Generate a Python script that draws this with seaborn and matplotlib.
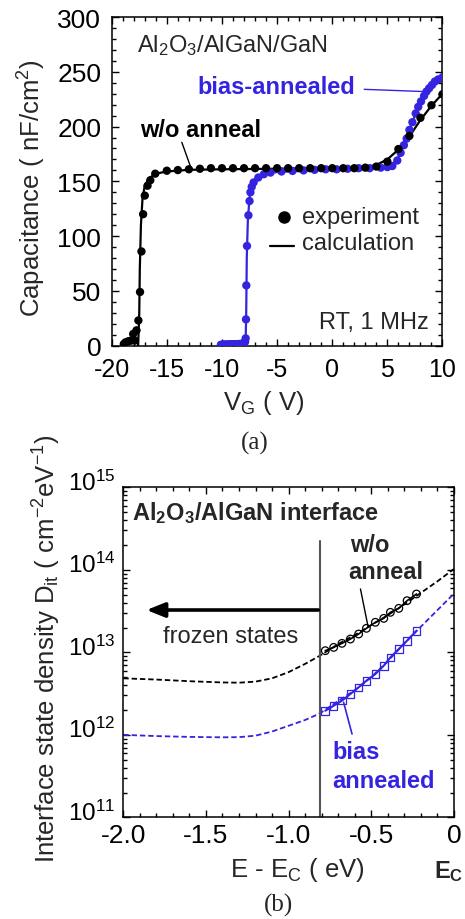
import numpy as np
import pandas as pd
import seaborn as sns
import matplotlib
matplotlib.use("Agg")
import matplotlib.pyplot as plt
from matplotlib.ticker import MultipleLocator, FixedLocator, FixedFormatter, LogLocator, NullFormatter
import matplotlib.transforms as mtransforms

# ---------------- data: panel (a) C-V ----------------
v_wo_exp = [-18.9, -18.75, -18.5, -18.25, -18.05, -17.9, -17.75, -17.58, -17.43, -17.3, -17.15,
            -17.0, -16.75, -16.5, -16.05, -15, -14, -13, -12, -11, -10, -9, -8, -7, -6, -5,
            -4, -3, -2, -1, 0, 1, 2, 3, 4, 5, 6, 7, 8, 9, 10]
c_wo_exp = [1.5, 3, 4, 4.6, 10.7, 4.6, 14, 23, 49, 86, 120,
            137, 146, 151, 157, 159.7, 160.3, 161, 161.5, 162, 162, 162, 162, 162, 162, 162,
            162, 162, 162, 162, 162, 162, 162, 162.5, 163.5, 168, 179.5, 191.5, 208, 219.5, 229.5]

v_wo_calc = [-17.6, -17.5, -17.45, -17.35, -17.2, -17.0, -16.6, -16.0, -15.0, -13.0, -10, -5, 0,
             3, 4, 5, 6, 7, 8, 9, 10]
c_wo_calc = [0, 30, 70, 110, 135, 146, 153, 157, 159, 160.5, 161, 161.5, 162,
             162.5, 165, 170, 179, 191, 206, 219, 230]

v_ba_exp = [-10.1, -10.0, -9.9, -9.8, -9.7, -9.6, -9.5, -9.4, -9.3, -9.2, -9.1, -9.0, -8.9,
            -8.8, -8.7, -8.6, -8.5, -8.4, -8.3, -8.2, -8.1, -8.0,
            -7.9, -7.85, -7.82, -7.79, -7.73, -7.6, -7.5, -7.42, -7.3, -7.13, -6.7, -6.2,
            -5.6, -4.6, -3.6, -2.6, -1.6, -0.6, 0.4, 1.4, 2.4, 3.4, 4.4, 5.0, 5.45, 5.9,
            6.2, 6.5, 6.75, 7.0, 7.27, 7.57, 7.8, 8.05, 8.33, 8.55, 8.79, 9.05, 9.3, 9.6, 10.0]
c_ba_exp = [0.8, 0.8, 0.9, 0.9, 1.0, 1.0, 1.0, 1.1, 1.1, 1.1, 1.2, 1.2, 1.2,
            1.3, 1.3, 1.4, 1.4, 1.5, 1.6, 1.7, 1.9, 2.2,
            3.5, 6.7, 24, 55, 91, 119, 132, 140, 145, 149, 153.5, 156.5,
            158, 159, 159.5, 160, 160.5, 161, 161, 161.5, 162, 162, 162.5, 163, 164, 169,
            176, 183, 189, 197, 204, 212, 218, 223, 228, 232, 235, 238, 241, 243, 245]

v_ba_calc = [-10.2, -8.0, -7.85, -7.8, -7.75, -7.65, -7.5, -7.3, -7.0, -6.5, -6, -5, 0, 4,
             5, 5.5, 6, 6.5, 7, 7.5, 8, 8.5, 9, 9.5, 10]
c_ba_calc = [1, 1, 5, 30, 80, 115, 135, 146, 152, 155, 157, 158.5, 161, 162.5,
             163.5, 166, 172, 183, 197, 210, 222, 232, 238, 242, 246]

cv_xticks = [-20, -15, -10, -5, 0, 5, 10]
cv_yticks = [0, 50, 100, 150, 200, 250, 300]

# ---------------- data: panel (b) Dit ----------------
e_calc = [-2.0, -1.8, -1.6, -1.4, -1.3, -1.2, -1.1, -1.0, -0.9, -0.81, -0.7, -0.6, -0.5,
          -0.4, -0.3, -0.2, -0.1, 0.0]
logd_wo_calc = [12.685, 12.67, 12.65, 12.635, 12.632, 12.645, 12.685, 12.76, 12.86, 12.96, 13.10,
                13.21, 13.33, 13.45, 13.58, 13.72, 13.86, 14.01]
logd_ba_calc = [12.0, 11.985, 11.975, 11.97, 11.972, 11.99, 12.04, 12.11, 12.18, 12.26, 12.41,
                12.54, 12.70, 12.89, 13.11, 13.31, 13.51, 13.71]

e_exp = [-0.778, -0.727, -0.677, -0.626, -0.576, -0.529, -0.475, -0.424, -0.384, -0.333,
         -0.283, -0.226]
logd_wo_exp = [13.020, 13.060, 13.109, 13.161, 13.222, 13.291, 13.364, 13.412, 13.485, 13.533,
               13.626, 13.707]
logd_ba_exp = [12.292, 12.353, 12.414, 12.495, 12.576, 12.656, 12.737, 12.838, 12.939, 13.04,
               13.141, 13.262]

dit_xticks = [-2.0, -1.5, -1.0, -0.5, 0.0]
dit_xticklabels = ["-2.0", "-1.5", "-1.0", "-0.5", "0"]
e_frozen = -0.81

BLUE = "#3424e0"
BLACK = "black"

sns.set_theme(style="ticks")
plt.rcParams["font.family"] = ["Liberation Sans", "DejaVu Sans"]
plt.rcParams["mathtext.fontset"] = "custom"
plt.rcParams["mathtext.rm"] = "Liberation Sans"
plt.rcParams["mathtext.it"] = "Liberation Sans:italic"
plt.rcParams["mathtext.bf"] = "Liberation Sans:bold"
plt.rcParams["mathtext.default"] = "regular"
plt.rcParams["axes.unicode_minus"] = False

FS = 17     # annotation text
LFS = 18.5  # axis labels
TFS = 19    # tick labels

fig = plt.figure(figsize=(4.65, 9.2), dpi=100)
axA = fig.add_axes([0.2402, 0.6232, 0.7114, 0.3572])
axB = fig.add_axes([0.2652, 0.1105, 0.7108, 0.3587])

for ax in (axA, axB):
    for s in ax.spines.values():
        s.set_linewidth(1.1)
        s.set_color("black")
    ax.tick_params(which="both", direction="in", top=True, right=True, colors="black",
                   labelsize=TFS, width=1.0)
    ax.tick_params(which="major", length=5)
    ax.tick_params(which="minor", length=2.8)

axA.tick_params(axis="x", which="major", pad=8, labelsize=18)
axA.tick_params(axis="y", which="major", pad=7.5)
axB.tick_params(axis="x", which="major", pad=4)
axB.tick_params(axis="y", which="major", pad=5.5, labelsize=17.5)

# ---------- panel (a) ----------
df_wo = pd.DataFrame({"V": v_wo_exp, "C": c_wo_exp})
df_ba = pd.DataFrame({"V": v_ba_exp, "C": c_ba_exp})
sns.lineplot(x=v_wo_calc, y=c_wo_calc, ax=axA, color=BLACK, lw=1.6, sort=False, estimator=None)
sns.lineplot(x=v_ba_calc, y=c_ba_calc, ax=axA, color=BLUE, lw=1.6, sort=False, estimator=None)
sns.scatterplot(data=df_ba, x="V", y="C", ax=axA, color=BLUE, s=36, edgecolor="none", zorder=3)
sns.scatterplot(data=df_wo, x="V", y="C", ax=axA, color=BLACK, s=36, edgecolor="none", zorder=4)

axA.set_xlim(-20, 10)
axA.set_ylim(0, 300)
axA.xaxis.set_major_locator(FixedLocator(cv_xticks))
axA.xaxis.set_minor_locator(MultipleLocator(1))
axA.yaxis.set_major_locator(FixedLocator(cv_yticks))
axA.yaxis.set_minor_locator(MultipleLocator(10))
axA.set_xlabel("V$_G$ ( V)", fontsize=LFS)
axA.set_ylabel("Capacitance ( nF/cm$^2$)", fontsize=LFS)
axA.xaxis.set_label_coords(0.458, -0.171)
axA.xaxis.label.set_va("center")
axA.yaxis.set_label_coords(-0.241, 0.483)
axA.yaxis.label.set_va("center")

axA.text(-17.7, 275, "Al$_2$O$_3$/AlGaN/GaN", fontsize=FS, va="center", ha="left")
axA.text(-12.25, 237, "bias-annealed", fontsize=FS, fontweight="bold", color=BLUE,
         va="center", ha="left")
axA.plot([2.9, 8.2], [234, 232], color=BLUE, lw=1.0)
axA.text(-17.43, 197.7, "w/o anneal", fontsize=FS, fontweight="bold", color=BLACK,
         va="center", ha="left")
axA.plot([-13.64, -12.88], [185.6, 164.2], color=BLACK, lw=1.0)
axA.scatter([-4.33], [117.3], s=64, color=BLACK, zorder=5)
axA.text(-2.7, 117.5, "experiment", fontsize=FS, va="center", ha="left")
axA.plot([-5.6, -3.5], [91, 91], color=BLACK, lw=1.6)
axA.text(-2.7, 94, "calculation", fontsize=FS, va="center", ha="left")
axA.text(8.75, 21.6, "RT, 1 MHz", fontsize=FS, va="center", ha="right")

fig.text(0.548, 0.518, "(a)", fontsize=18, family=["Liberation Serif", "DejaVu Serif"],
         ha="center", va="center")

# ---------- panel (b) ----------
d_wo_calc = [10 ** v for v in logd_wo_calc]
d_ba_calc = [10 ** v for v in logd_ba_calc]
d_wo_exp = [10 ** v for v in logd_wo_exp]
d_ba_exp = [10 ** v for v in logd_ba_exp]

axB.set_yscale("log")
sns.lineplot(x=e_calc, y=d_wo_calc, ax=axB, color=BLACK, lw=1.3, sort=False, estimator=None,
             linestyle=(0, (3, 1.6)))
sns.lineplot(x=e_calc, y=d_ba_calc, ax=axB, color=BLUE, lw=1.3, sort=False, estimator=None,
             linestyle=(0, (3, 1.6)))
sns.lineplot(x=e_exp, y=d_wo_exp, ax=axB, color=BLACK, lw=1.2, sort=False, estimator=None)
sns.lineplot(x=e_exp, y=d_ba_exp, ax=axB, color=BLUE, lw=1.5, sort=False, estimator=None)
sns.scatterplot(x=e_exp, y=d_wo_exp, ax=axB, marker="o", s=30, facecolor="none",
                edgecolor=BLACK, linewidth=0.9, zorder=4)
sns.scatterplot(x=e_exp, y=d_ba_exp, ax=axB, marker="s", s=30, facecolor="none",
                edgecolor=BLUE, linewidth=0.9, zorder=4)

axB.set_xlim(-2.0, 0.0)
axB.set_ylim(1e11, 1e15)
axB.xaxis.set_major_locator(FixedLocator(dit_xticks))
axB.xaxis.set_major_formatter(FixedFormatter(dit_xticklabels))
axB.xaxis.set_minor_locator(MultipleLocator(0.1))
axB.yaxis.set_major_locator(LogLocator(base=10, numticks=10))
axB.yaxis.set_minor_locator(LogLocator(base=10, subs=np.arange(2, 10), numticks=10))
axB.yaxis.set_minor_formatter(NullFormatter())

axB.plot([e_frozen, e_frozen], [10 ** 14.353, 1e11], color="#555555", lw=1.5, zorder=2)

axB.set_xlabel("E - E$_C$ ( eV)", fontsize=LFS)
axB.set_ylabel("Interface state density D$_{it}$ ( cm$^{-2}$eV$^{-1}$)", fontsize=LFS)
axB.xaxis.set_label_coords(0.525, -0.157)
axB.xaxis.label.set_va("center")
axB.yaxis.set_label_coords(-0.231, 0.513)
axB.yaxis.label.set_va("center")

axB.text(-1.947, 10 ** 14.70, "Al$_2$O$_3$/AlGaN interface", fontsize=FS, fontweight="bold",
         va="center", ha="left")
axB.text(-0.626, 10 ** 14.313, "w/o", fontsize=FS, fontweight="bold", va="center", ha="left")
axB.text(-0.638, 10 ** 13.985, "anneal", fontsize=FS, fontweight="bold", va="center", ha="left")
axB.plot([-0.565, -0.52], [10 ** 13.768, 10 ** 13.32], color=BLACK, lw=1.0)
axB.text(-1.758, 10 ** 13.198, "frozen states", fontsize=FS, va="center", ha="left")
axB.annotate("", xy=(-1.86, 10 ** 13.513), xytext=(-0.82, 10 ** 13.513),
             arrowprops=dict(arrowstyle="-|>,head_length=0.55,head_width=0.22", lw=2.6,
                             color=BLACK, mutation_scale=20, shrinkA=0, shrinkB=0))
axB.text(-0.734, 10 ** 11.794, "bias", fontsize=FS, fontweight="bold", color=BLUE,
         va="center", ha="left")
axB.text(-0.734, 10 ** 11.442, "annealed", fontsize=FS, fontweight="bold", color=BLUE,
         va="center", ha="left")
axB.plot([-0.667, -0.616], [10 ** 12.394, 10 ** 12.01], color=BLUE, lw=1.2)

trans = mtransforms.blended_transform_factory(axB.transData, axB.transAxes)
axB.text(-0.03, -0.162, "E$_C$", transform=trans, fontsize=FS, fontweight="bold",
         ha="center", va="center")

fig.text(0.598, 0.0163, "(b)", fontsize=18, family=["Liberation Serif", "DejaVu Serif"],
         ha="center", va="center")

# raise the log tick labels a little so the digits sit on the tick (as in the reference)
fig.canvas.draw()
shift = mtransforms.ScaledTranslation(0, 5.5 / 72, fig.dpi_scale_trans)
for t in axB.yaxis.get_major_ticks():
    t.label1.set_transform(t.label1.get_transform() + shift)

fig.savefig("out.png", dpi=100, facecolor="white")
